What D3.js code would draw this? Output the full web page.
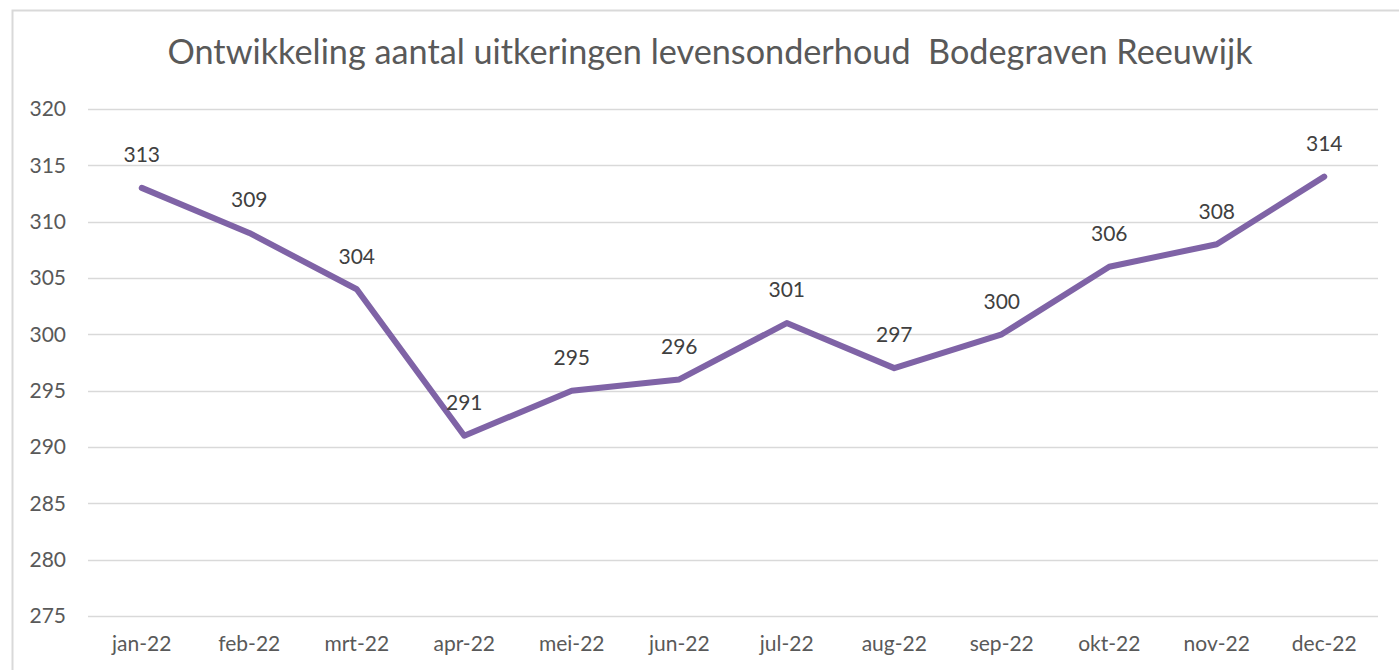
<!DOCTYPE html>
<html>
<head>
<meta charset="utf-8">
<script src="https://cdn.jsdelivr.net/npm/d3@7"></script>
<style>
  html, body { margin: 0; padding: 0; background: #fff; }
  svg { display: block; }
</style>
</head>
<body>
<svg id="chart" width="1399" height="670"></svg>
<script>
const titleText = "Ontwikkeling aantal uitkeringen levensonderhoud  Bodegraven Reeuwijk";
const categories = ["jan-22","feb-22","mrt-22","apr-22","mei-22","jun-22","jul-22","aug-22","sep-22","okt-22","nov-22","dec-22"];
const values = [313, 309, 304, 291, 295, 296, 301, 297, 300, 306, 308, 314];
const yTicks = [275, 280, 285, 290, 295, 300, 305, 310, 315, 320];

(function () {
const svg = d3.select("#chart");
const font = "Lato, 'Open Sans', 'Liberation Sans', sans-serif";

// chart border
svg.append("rect")
  .attr("x", 12.5).attr("y", 10.5)
  .attr("width", 1399).attr("height", 700)
  .attr("fill", "#fff").attr("stroke", "#d9d9d9").attr("stroke-width", 2);

const mLeft = 88, mRight = 1378, mTop = 109, mBottom = 616;

const x = d3.scaleBand().domain(categories).range([mLeft, mRight]);
const y = d3.scaleLinear().domain([275, 320]).range([mBottom, mTop]);

// gridlines
svg.append("g").selectAll("line").data(yTicks).join("line")
  .attr("x1", mLeft).attr("x2", mRight)
  .attr("y1", d => Math.round(y(d)) + 0.5).attr("y2", d => Math.round(y(d)) + 0.5)
  .attr("stroke", "#d9d9d9").attr("stroke-width", 1.5);

// y axis labels
const yAxis = d3.axisLeft(y).tickValues(yTicks).tickSize(0).tickPadding(0);
const gy = svg.append("g").attr("transform", `translate(66,0)`).call(yAxis);
gy.select(".domain").remove();
gy.selectAll("text")
  .attr("fill", "#595959").style("font-family", font).style("font-size", "21px");

// x axis labels
const xAxis = d3.axisBottom(x).tickSize(0).tickPadding(0);
const gx = svg.append("g").attr("transform", `translate(0,636)`).call(xAxis);
gx.select(".domain").remove();
gx.selectAll("text")
  .attr("fill", "#595959").style("font-family", font).style("font-size", "21px");

// line
const line = d3.line()
  .x((d, i) => x(categories[i]) + x.bandwidth() / 2)
  .y(d => y(d));
svg.append("path")
  .datum(values)
  .attr("d", line)
  .attr("fill", "none")
  .attr("stroke", "#7f63a6")
  .attr("stroke-width", 6)
  .attr("stroke-linejoin", "round")
  .attr("stroke-linecap", "round");

// data labels
svg.append("g").selectAll("text").data(values).join("text")
  .attr("x", (d, i) => x(categories[i]) + x.bandwidth() / 2)
  .attr("y", d => y(d) - 31)
  .attr("text-anchor", "middle")
  .attr("dominant-baseline", "middle")
  .attr("fill", "#404040")
  .style("font-family", font).style("font-size", "21px")
  .text(d => d);

// title
const title = svg.append("text")
  .attr("x", 710).attr("y", 55)
  .attr("text-anchor", "middle")
  .attr("dominant-baseline", "middle")
  .attr("fill", "#595959")
  .style("font-family", font).style("font-size", "32px")
  .style("white-space", "pre")
  .text(titleText);
const w = title.node().getComputedTextLength();
const target = 1085;
title.style("font-size", (32 * target / w).toFixed(2) + "px");
})();
</script>
</body>
</html>
